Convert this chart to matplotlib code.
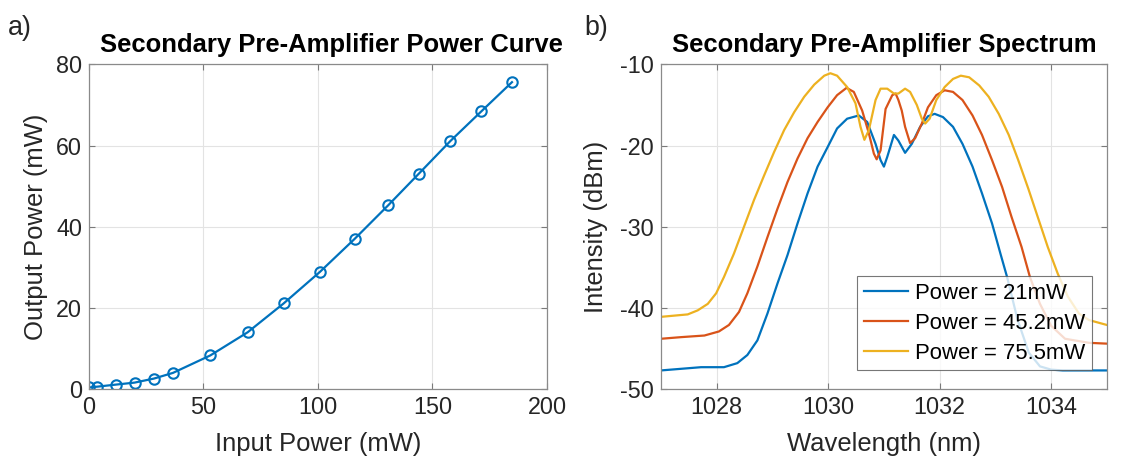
import matplotlib
matplotlib.use("Agg")
import matplotlib.pyplot as plt
from matplotlib import font_manager

# panel a) power curve
p_in = [0, 3.6, 11.6, 19.9, 28.4, 36.7, 53.0, 69.3, 85.0, 100.9, 116.0, 130.7, 144.1, 157.8, 171.3, 184.7]
p_out = [0.4, 0.6, 1.1, 1.6, 2.6, 4.0, 8.3, 14.0, 21.1, 28.9, 37.0, 45.3, 53.1, 61.1, 68.4, 75.6]

# panel b) spectra
wl_21 = [1027.0, 1027.36, 1027.72, 1028.13, 1028.37, 1028.55, 1028.73, 1028.91, 1029.09, 1029.27, 1029.45,
         1029.63, 1029.81, 1029.99, 1030.16, 1030.34, 1030.55, 1030.7, 1030.85, 1030.94, 1031.0, 1031.06,
         1031.18, 1031.26, 1031.38, 1031.5, 1031.65, 1031.79, 1031.91, 1032.06, 1032.24, 1032.41, 1032.59,
         1032.76, 1032.94, 1033.09, 1033.21, 1033.4, 1033.6, 1033.8, 1034.0, 1034.21, 1035.0]
db_21 = [-47.7, -47.5, -47.3, -47.3, -46.8, -45.8, -44.0, -40.7, -37.0, -33.5, -29.6,
         -25.9, -22.6, -20.2, -17.9, -16.7, -16.3, -17.1, -19.8, -21.8, -22.6, -21.4,
         -18.7, -19.4, -20.9, -19.8, -17.7, -16.4, -16.1, -16.5, -17.7, -19.8, -22.6,
         -25.9, -29.6, -33.3, -36.2, -41.5, -45.5, -47.2, -47.6, -47.7, -47.7]

wl_45 = [1027.0, 1027.36, 1027.78, 1028.04, 1028.22, 1028.4, 1028.55, 1028.73, 1028.91, 1029.09, 1029.27,
         1029.45, 1029.63, 1029.81, 1029.99, 1030.16, 1030.33, 1030.46, 1030.61, 1030.73, 1030.82, 1030.87,
         1030.94, 1031.03, 1031.15, 1031.21, 1031.26, 1031.32, 1031.38, 1031.47, 1031.56, 1031.68, 1031.79,
         1031.94, 1032.09, 1032.24, 1032.41, 1032.59, 1032.76, 1032.94, 1033.12, 1033.29, 1033.47, 1033.62,
         1033.8, 1034.0, 1034.25, 1034.68, 1035.0]
db_45 = [-43.8, -43.6, -43.4, -42.9, -42.1, -40.5, -38.2, -34.9, -31.3, -27.8, -24.5,
         -21.6, -19.1, -17.1, -15.3, -13.8, -12.9, -13.4, -15.7, -18.5, -21.0, -21.7,
         -20.6, -15.5, -13.8, -13.6, -14.4, -15.7, -17.7, -19.7, -19.1, -17.3, -15.3,
         -13.8, -13.2, -13.4, -14.4, -16.3, -18.7, -21.8, -25.1, -28.8, -32.5, -36.2,
         -39.5, -42.2, -43.8, -44.3, -44.4]

wl_75 = [1027.0, 1027.48, 1027.66, 1027.84, 1027.99, 1028.13, 1028.31, 1028.49, 1028.67, 1028.85, 1029.03,
         1029.21, 1029.39, 1029.57, 1029.75, 1029.93, 1030.04, 1030.16, 1030.34, 1030.49, 1030.58, 1030.65,
         1030.73, 1030.85, 1030.94, 1031.06, 1031.18, 1031.26, 1031.38, 1031.47, 1031.59, 1031.68, 1031.74,
         1031.82, 1031.94, 1032.09, 1032.24, 1032.38, 1032.53, 1032.71, 1032.88, 1033.06, 1033.24, 1033.41,
         1033.59, 1033.76, 1033.94, 1034.12, 1034.3, 1034.5, 1034.68, 1035.0]
db_75 = [-41.1, -40.8, -40.3, -39.5, -38.2, -36.2, -33.3, -30.0, -26.7, -23.7, -20.8,
         -18.1, -15.9, -14.0, -12.5, -11.4, -11.1, -11.4, -12.8, -14.8, -17.7, -19.3,
         -18.1, -14.4, -13.0, -13.0, -13.6, -13.6, -13.0, -13.4, -15.0, -16.7, -17.3,
         -16.7, -14.4, -12.8, -11.8, -11.4, -11.6, -12.6, -14.0, -16.1, -18.7, -21.8,
         -25.3, -28.8, -32.5, -35.8, -38.6, -40.7, -41.5, -42.1]

labels = ["Power = 21mW", "Power = 45.2mW", "Power = 75.5mW"]
colors = ["#0072BD", "#D95319", "#EDB120"]

installed = {f.name for f in font_manager.fontManager.ttflist}
narrow = "Liberation Sans Narrow" in installed
plt.rcParams["font.family"] = ["Liberation Sans Narrow", "Liberation Sans", "DejaVu Sans"] if narrow \
    else ["Liberation Sans", "DejaVu Sans"]
plt.rcParams["axes.unicode_minus"] = False
k = 1.0 if narrow else 0.84  # shrink sizes if only the regular width face exists
txt = "#262626"


def style(ax):
    ax.grid(True, color="#e3e3e3", linewidth=0.8)
    ax.set_axisbelow(True)
    ax.tick_params(direction="in", length=4, labelsize=20 * k, colors=txt, top=True, right=True,
                   labeltop=False, labelright=False, pad=5, color="#7a7a7a")
    for s in ax.spines.values():
        s.set_color("#8a8a8a")
        s.set_linewidth(0.9)


fig = plt.figure(figsize=(11.26, 4.66), dpi=100)
ax1 = fig.add_axes([0.079, 0.165, 0.4068, 0.697])
ax2 = fig.add_axes([0.587, 0.165, 0.396, 0.697])

ax1.plot(p_in, p_out, "-o", color=colors[0], lw=1.6, ms=7.5, mfc="none", mew=1.5)
ax1.set_xlim(0, 200)
ax1.set_ylim(0, 80)
ax1.set_xticks([0, 50, 100, 150, 200])
ax1.set_yticks([0, 20, 40, 60, 80])
ax1.set_xlabel("Input Power (mW)", fontsize=22 * k, color=txt, labelpad=9)
ax1.set_ylabel("Output Power (mW)", fontsize=22 * k, color=txt, labelpad=6)
ax1.set_title("Secondary Pre-Amplifier Power Curve", fontsize=22 * k, fontweight="bold", pad=9,
              x=0.53)
style(ax1)

for wl, db, lab, c in zip([wl_21, wl_45, wl_75], [db_21, db_45, db_75], labels, colors):
    ax2.plot(wl, db, color=c, lw=1.6, label=lab)
ax2.set_xlim(1027, 1035)
ax2.set_ylim(-50, -10)
ax2.set_xticks([1028, 1030, 1032, 1034])
ax2.set_yticks([-50, -40, -30, -20, -10])
ax2.set_xlabel("Wavelength (nm)", fontsize=22 * k, color=txt, labelpad=9)
ax2.set_ylabel("Intensity (dBm)", fontsize=22 * k, color=txt, labelpad=9)
ax2.set_title("Secondary Pre-Amplifier Spectrum", fontsize=22 * k, fontweight="bold", pad=9)
style(ax2)
leg = ax2.legend(loc="lower right", bbox_to_anchor=(0.966, 0.058), fontsize=19 * k, frameon=True,
                 fancybox=False, edgecolor="#555555", handlelength=2.0, borderpad=0.3,
                 labelspacing=0.4, handletextpad=0.3, borderaxespad=0)
leg.get_frame().set_linewidth(0.8)

fig.text(0.007, 0.925, "a)", fontsize=23 * k, color=txt)
fig.text(0.519, 0.925, "b)", fontsize=23 * k, color=txt)

fig.savefig("out.png", dpi=100)
